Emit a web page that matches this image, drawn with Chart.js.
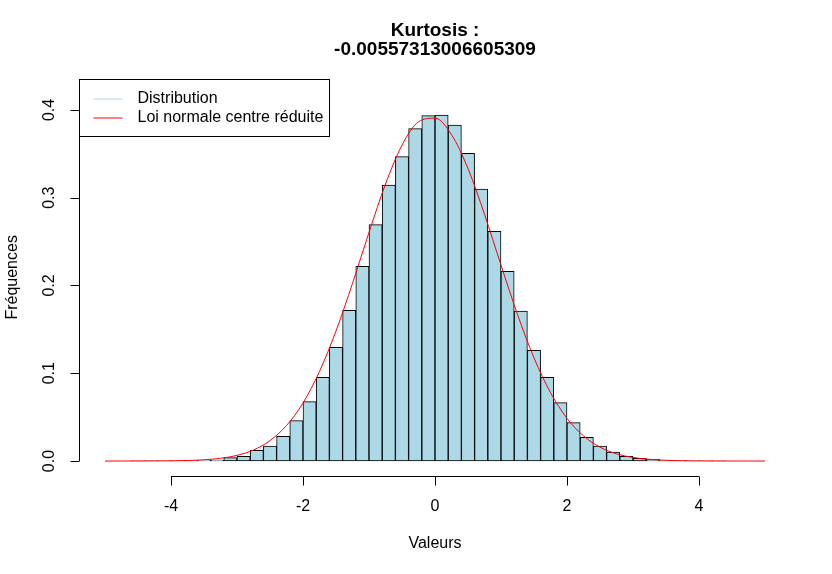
<!DOCTYPE html>
<html>
<head>
<meta charset="utf-8">
<script src="https://cdn.jsdelivr.net/npm/chart.js@4"></script>
<style>
  body { margin: 0; background: white; }
</style>
</head>
<body>
<canvas id="hist-chart" width="832" height="574"></canvas>
<script>
// histogram bins (width 0.2), centres and densities
const binCenters = [
  -4.5, -4.3, -4.1, -3.9, -3.7, -3.5, -3.3, -3.1, -2.9, -2.7, -2.5, -2.3, -2.1,
  -1.9, -1.7, -1.5, -1.3, -1.1, -0.9, -0.7, -0.5, -0.3, -0.1, 0.1, 0.3, 0.5,
  0.7, 0.9, 1.1, 1.3, 1.5, 1.7, 1.9, 2.1, 2.3, 2.5, 2.7, 2.9, 3.1, 3.3, 3.5,
  3.7, 3.9, 4.1, 4.3,
];
const densities = [
  0.0001, 0.0001, 0.0002, 0.0003, 0.0005, 0.0008, 0.0012, 0.0038, 0.0053,
  0.0122, 0.0171, 0.0281, 0.046, 0.0676, 0.0954, 0.1295, 0.1717, 0.2219,
  0.2693, 0.3145, 0.3468, 0.3787, 0.3935, 0.3943, 0.3829, 0.3506, 0.31,
  0.2617, 0.2162, 0.1709, 0.1261, 0.0954, 0.0665, 0.0437, 0.027, 0.0171,
  0.0103, 0.0053, 0.003, 0.0019, 0.0008, 0.0004, 0.0003, 0.0001, 0.0001,
];

// red density curve
const curveX = [
  -5, -4.75, -4.5, -4.25, -4, -3.75, -3.5, -3.25, -3, -2.75, -2.5, -2.25, -2,
  -1.75, -1.5, -1.25, -1, -0.75, -0.5, -0.25, 0, 0.25, 0.5, 0.75, 1, 1.25,
  1.5, 1.75, 2, 2.25, 2.5, 2.75, 3, 3.25, 3.5, 3.75, 4, 4.25, 4.5, 4.75, 5,
];
const curveY = [
  0, 0, 0.00003, 0.0001, 0.00024, 0.00059, 0.00139, 0.00308, 0.00641, 0.01258,
  0.02324, 0.0404, 0.0661, 0.1021, 0.1481, 0.2025, 0.2605, 0.3156, 0.3599,
  0.3865, 0.3907, 0.3719, 0.3332, 0.2811, 0.2232, 0.167, 0.1175, 0.0779,
  0.0486, 0.0286, 0.0158, 0.0082, 0.004, 0.0019, 0.0008, 0.0003, 0.0001, 0,
  0, 0, 0,
];

const xTicks = [-4, -2, 0, 2, 4];
const yTicks = [0, 0.1, 0.2, 0.3, 0.4];

const titleLines = ["Kurtosis :", "-0.00557313006605309"];
const legendLabels = ["Distribution", "Loi normale centre réduite"];

const FONT = "'Liberation Sans', Arial, sans-serif";

// R style axes, labels, title and legend
const rStyle = {
  id: "rStyle",
  afterDraw(chart) {
    const ctx = chart.ctx;
    const xs = chart.scales.x;
    const ys = chart.scales.y;
    const area = chart.chartArea;
    ctx.save();
    ctx.strokeStyle = "#000";
    ctx.fillStyle = "#000";
    ctx.lineWidth = 1;

    // x axis
    const axY = Math.round(area.bottom) + 0.5;
    ctx.beginPath();
    ctx.moveTo(xs.getPixelForValue(xTicks[0]), axY);
    ctx.lineTo(xs.getPixelForValue(xTicks[xTicks.length - 1]), axY);
    xTicks.forEach((t) => {
      const px = Math.round(xs.getPixelForValue(t)) + 0.5;
      ctx.moveTo(px, axY);
      ctx.lineTo(px, axY + 9);
    });
    ctx.stroke();
    ctx.font = "16px " + FONT;
    ctx.textAlign = "center";
    ctx.textBaseline = "middle";
    xTicks.forEach((t) => {
      ctx.fillText(String(t), xs.getPixelForValue(t), axY + 30);
    });

    // y axis
    const axX = Math.round(area.left) + 0.5;
    ctx.beginPath();
    ctx.moveTo(axX, ys.getPixelForValue(yTicks[0]));
    ctx.lineTo(axX, ys.getPixelForValue(yTicks[yTicks.length - 1]));
    yTicks.forEach((t) => {
      const py = Math.round(ys.getPixelForValue(t)) + 0.5;
      ctx.moveTo(axX, py);
      ctx.lineTo(axX - 9, py);
    });
    ctx.stroke();
    yTicks.forEach((t) => {
      ctx.save();
      ctx.translate(axX - 30, ys.getPixelForValue(t));
      ctx.rotate(-Math.PI / 2);
      ctx.fillText(t.toFixed(1), 0, 0);
      ctx.restore();
    });

    // axis titles
    const midX = (area.left + area.right) / 2;
    ctx.fillText("Valeurs", midX, 544);
    ctx.save();
    ctx.translate(13, (area.top + area.bottom) / 2);
    ctx.rotate(-Math.PI / 2);
    ctx.fillText("Fréquences", 0, 0);
    ctx.restore();

    // main title
    ctx.font = "bold 19px " + FONT;
    ctx.fillText(titleLines[0], midX, 31);
    ctx.fillText(titleLines[1], midX, 50);

    // legend
    const lx = axX, ly = Math.round(area.top) + 0.5;
    ctx.strokeRect(lx, ly, 250, 57);
    ctx.font = "16px " + FONT;
    ctx.textAlign = "left";
    const legendColors = ["#add8e6", "#ff0000"];
    legendLabels.forEach((lab, i) => {
      const yy = ly + 19.5 + i * 19;
      ctx.strokeStyle = legendColors[i];
      ctx.beginPath();
      ctx.moveTo(lx + 14, yy);
      ctx.lineTo(lx + 43, yy);
      ctx.stroke();
      ctx.fillText(lab, lx + 58, yy);
    });
    ctx.restore();
  },
};

new Chart(document.getElementById("hist-chart"), {
  data: {
    datasets: [
      {
        type: "line",
        label: legendLabels[1],
        data: curveX.map((x, i) => ({ x: x, y: curveY[i] })),
        borderColor: "#ff0000",
        borderWidth: 1,
        pointRadius: 0,
        cubicInterpolationMode: "monotone",
        order: 0,
      },
      {
        type: "bar",
        label: legendLabels[0],
        data: binCenters.map((x, i) => ({ x: x, y: densities[i] })),
        backgroundColor: "#add8e6",
        borderColor: "#000",
        borderWidth: 1,
        borderSkipped: false,
        barPercentage: 1,
        categoryPercentage: 1,
        order: 1,
      },
    ],
  },
  options: {
    responsive: false,
    animation: false,
    devicePixelRatio: 1,
    layout: {
      padding: { left: 78.6, right: 40.6, top: 79, bottom: 98.3 },
    },
    plugins: {
      legend: { display: false },
      tooltip: { enabled: false },
    },
    scales: {
      x: {
        type: "linear",
        min: -5.4,
        max: 5.4,
        offset: false,
        grid: { offset: false },
        display: false,
      },
      y: { type: "linear", min: -0.01674, max: 0.4353, display: false },
    },
  },
  plugins: [rStyle],
});
</script>
</body>
</html>
